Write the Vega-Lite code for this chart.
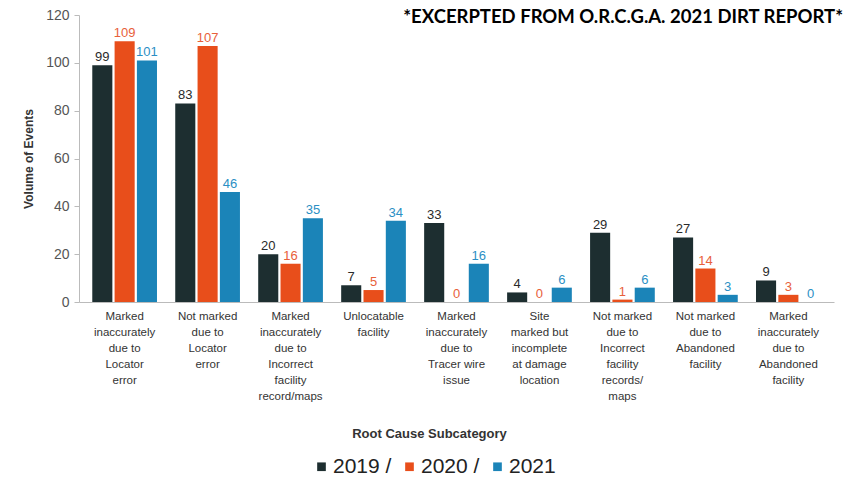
{
  "$schema": "https://vega.github.io/schema/vega-lite/v6.json",
  "width": 755,
  "height": 287,
  "autosize": {"type": "none"},
  "padding": {"left": 79, "top": 15, "right": 12, "bottom": 186},
  "background": "white",
  "config": {"view": {"stroke": null}, "font": "Liberation Sans"},
  "title": {"text": "*EXCERPTED FROM O.R.C.G.A. 2021 DIRT REPORT*", "anchor": "end", "frame": "group", "font": "Lato", "fontSize": 18.5, "fontWeight": "bold", "color": "#000000", "dx": 9, "dy": 22},
  "data": {"values": [
    {"cat": "Marked|inaccurately|due to|Locator|error", "year": "2019", "v": 99},
    {"cat": "Marked|inaccurately|due to|Locator|error", "year": "2020", "v": 109},
    {"cat": "Marked|inaccurately|due to|Locator|error", "year": "2021", "v": 101},
    {"cat": "Not marked|due to|Locator|error", "year": "2019", "v": 83},
    {"cat": "Not marked|due to|Locator|error", "year": "2020", "v": 107},
    {"cat": "Not marked|due to|Locator|error", "year": "2021", "v": 46},
    {"cat": "Marked|inaccurately|due to|Incorrect|facility|record/maps", "year": "2019", "v": 20},
    {"cat": "Marked|inaccurately|due to|Incorrect|facility|record/maps", "year": "2020", "v": 16},
    {"cat": "Marked|inaccurately|due to|Incorrect|facility|record/maps", "year": "2021", "v": 35},
    {"cat": "Unlocatable|facility", "year": "2019", "v": 7},
    {"cat": "Unlocatable|facility", "year": "2020", "v": 5},
    {"cat": "Unlocatable|facility", "year": "2021", "v": 34},
    {"cat": "Marked|inaccurately|due to|Tracer wire|issue", "year": "2019", "v": 33},
    {"cat": "Marked|inaccurately|due to|Tracer wire|issue", "year": "2020", "v": 0},
    {"cat": "Marked|inaccurately|due to|Tracer wire|issue", "year": "2021", "v": 16},
    {"cat": "Site|marked but|incomplete|at damage|location", "year": "2019", "v": 4},
    {"cat": "Site|marked but|incomplete|at damage|location", "year": "2020", "v": 0},
    {"cat": "Site|marked but|incomplete|at damage|location", "year": "2021", "v": 6},
    {"cat": "Not marked|due to|Incorrect|facility|records/|maps", "year": "2019", "v": 29},
    {"cat": "Not marked|due to|Incorrect|facility|records/|maps", "year": "2020", "v": 1},
    {"cat": "Not marked|due to|Incorrect|facility|records/|maps", "year": "2021", "v": 6},
    {"cat": "Not marked|due to|Abandoned|facility", "year": "2019", "v": 27},
    {"cat": "Not marked|due to|Abandoned|facility", "year": "2020", "v": 14},
    {"cat": "Not marked|due to|Abandoned|facility", "year": "2021", "v": 3},
    {"cat": "Marked|inaccurately|due to|Abandoned|facility", "year": "2019", "v": 9},
    {"cat": "Marked|inaccurately|due to|Abandoned|facility", "year": "2020", "v": 3},
    {"cat": "Marked|inaccurately|due to|Abandoned|facility", "year": "2021", "v": 0}
  ]},
  "encoding": {
    "x": {
      "field": "cat", "type": "nominal", "sort": null,
      "scale": {"paddingInner": 0.22, "paddingOuter": 0.16},
      "axis": {
        "labelAngle": 0, "ticks": false, "domainColor": "#bbbbbb",
        "labelExpr": "split(datum.label, '|')",
        "labelFontSize": 11.5, "labelColor": "#333333", "labelLineHeight": 16,
        "labelPadding": 8, "labelOverlap": false, "labelLimit": 0,
        "title": "Root Cause Subcategory", "titleFontSize": 13, "titleFontWeight": "bold",
        "titleColor": "#333333", "titleX": 350, "titleY": 131, "titleBaseline": "middle"
      }
    },
    "xOffset": {"field": "year", "type": "nominal", "scale": {"paddingInner": 0.1}},
    "y": {
      "field": "v", "type": "quantitative",
      "scale": {"domain": [0, 120], "nice": false},
      "axis": {
        "values": [0, 20, 40, 60, 80, 100, 120], "grid": false,
        "labelFontSize": 14, "labelColor": "#555555", "labelPadding": 5,
        "domainColor": "#bbbbbb", "tickColor": "#bbbbbb", "tickSize": 5,
        "title": "Volume of Events", "titleFontSize": 12, "titleFontWeight": "bold",
        "titleColor": "#333333", "titlePadding": 10
      }
    }
  },
  "layer": [
    {
      "mark": {"type": "bar"},
      "encoding": {
        "color": {
          "field": "year", "type": "nominal",
          "scale": {"domain": ["2019", "2020", "2021"], "range": ["#1d2e30", "#e84e1b", "#1b84b8"]},
          "legend": {
            "orient": "none", "legendX": 232, "legendY": 441, "direction": "horizontal",
            "title": null, "symbolType": "square", "symbolSize": 75, "symbolStrokeWidth": 0,
            "labelFontSize": 21, "labelColor": "#222222", "labelOffset": 1, "columnPadding": 7,
            "labelExpr": "datum.label == '2021' ? datum.label : datum.label + ' /'"
          }
        }
      }
    },
    {
      "mark": {"type": "text", "dy": -8, "fontSize": 13},
      "encoding": {
        "text": {"field": "v", "type": "quantitative"},
        "color": {
          "field": "year", "type": "nominal",
          "scale": {"domain": ["2019", "2020", "2021"], "range": ["#2a2a2a", "#e8603a", "#2b8fc4"]},
          "legend": null
        }
      }
    }
  ],
  "resolve": {"scale": {"color": "independent"}}
}
